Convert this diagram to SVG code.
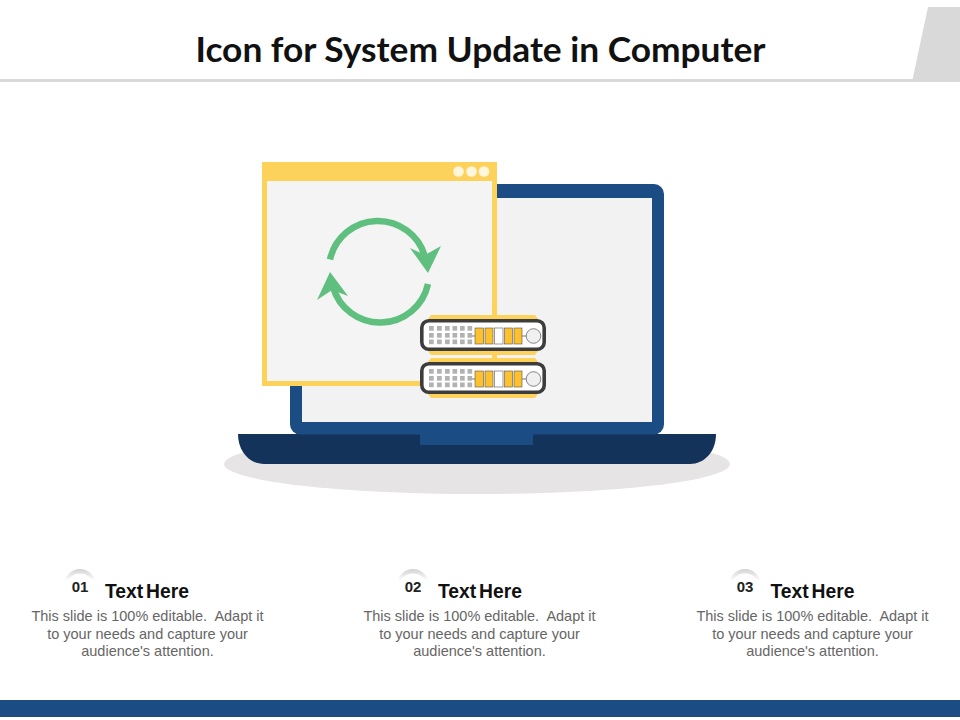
<svg xmlns="http://www.w3.org/2000/svg" width="960" height="720" viewBox="0 0 960 720">
<style>
.title{font:700 35px "Lato",sans-serif;fill:#111}
.num{font:bold 15px "Liberation Sans",Arial,sans-serif;fill:#222;text-anchor:middle}
.head{font:bold 19.300px "Liberation Sans",Arial,sans-serif;fill:#111;word-spacing:-2.500px}
.body{font:14.500px "Liberation Sans",Arial,sans-serif;fill:#666;text-anchor:middle;white-space:pre}
.arc{fill:none;stroke:#5fbf7f;stroke-width:6.500}
.g{fill:#b2b2b2}.y{fill:#fdc02f;stroke:#555;stroke-width:.6}.w{fill:#fff;stroke:#555;stroke-width:.6}
</style>
<defs>
<linearGradient id="halo" x1="0" y1="0" x2="0" y2="1"><stop offset="0" stop-color="#d2d2d2"/><stop offset=".7" stop-color="#fff"/></linearGradient>
<g id="row">
<path d="M428 319 L431 315 H535 L538 319 V351 L535 355 H431 L428 351Z" fill="#fdd25b"/>
<rect x="421.800" y="320.800" width="122.400" height="28.400" rx="7" fill="#fff" stroke="#3d3d3d" stroke-width="3.600"/>
<path d="M472 336H475M522 336H526" stroke="#555" stroke-width=".8"/>
<g class="g">
<rect x="429" y="326" width="4.700" height="4.700"/><rect x="437" y="326" width="4.700" height="4.700"/><rect x="445" y="326" width="4.700" height="4.700"/><rect x="452.500" y="326" width="4.700" height="4.700"/><rect x="460" y="326" width="4.700" height="4.700"/><rect x="467.500" y="326" width="4.700" height="4.700"/>
<rect x="429" y="333" width="4.700" height="4.700"/><rect x="437" y="333" width="4.700" height="4.700"/><rect x="445" y="333" width="4.700" height="4.700"/><rect x="452.500" y="333" width="4.700" height="4.700"/><rect x="460" y="333" width="4.700" height="4.700"/><rect x="467.500" y="333" width="4.700" height="4.700"/>
<rect x="429" y="339.500" width="4.700" height="4.700"/><rect x="437" y="339.500" width="4.700" height="4.700"/><rect x="445" y="339.500" width="4.700" height="4.700"/><rect x="452.500" y="339.500" width="4.700" height="4.700"/><rect x="460" y="339.500" width="4.700" height="4.700"/><rect x="467.500" y="339.500" width="4.700" height="4.700"/>
</g>
<rect class="y" x="475" y="328" width="8.500" height="16"/><rect class="y" x="485" y="328" width="8" height="16"/><rect class="w" x="494.500" y="328" width="8.500" height="16"/><rect class="y" x="504.500" y="328" width="8" height="16"/><rect class="y" x="514" y="328" width="8" height="16"/>
<circle cx="533.500" cy="336" r="7.300" fill="#f0f0f0" stroke="#777" stroke-width=".9"/>
</g>
</defs>
<rect width="960" height="720" fill="#fff"/>
<g id="header">
<rect x="0" y="79" width="920" height="3" fill="#d9d9d9"/>
<path d="M928 7H960V82H912Z" fill="#d9d9d9"/>
<text class="title" x="480.500" y="62" text-anchor="middle" textLength="570" lengthAdjust="spacingAndGlyphs">Icon for System Update in Computer</text>
</g>
<g id="laptop">
<ellipse cx="477" cy="464" rx="253" ry="30" fill="#e6e4e4"/>
<path d="M238 434H716C716 452 704 464 690 464H264C250 464 238 452 238 434Z" fill="#14335b"/>
<rect x="290" y="184" width="374" height="250.500" rx="10" fill="#1c4c84"/>
<rect x="420" y="434" width="113" height="11" fill="#1c4c84"/>
<rect x="302" y="198" width="350" height="224" fill="#f2f2f2"/>
</g>
<g id="window">
<rect x="262" y="162" width="235" height="224" fill="#fdd25b"/>
<rect x="267" y="181" width="225" height="200" fill="#f4f4f4"/>
<circle cx="458.500" cy="171.500" r="5.300" fill="#fff6dc"/><circle cx="471.500" cy="171.500" r="5.300" fill="#fff6dc"/><circle cx="484" cy="171.500" r="5.300" fill="#fff6dc"/>
</g>
<g id="refresh-icon">
<path class="arc" d="M330 259.500A49 49 0 0 1 425 256.500"/>
<path d="M428 273L410 248L425 255L441 246Z" fill="#5fbf7f"/>
<path class="arc" d="M428 284A49 49 0 0 1 333 287"/>
<path d="M330 272L348 296L332 290L317 300Z" fill="#5fbf7f"/>
</g>
<g id="server">
<use href="#row"/>
<use href="#row" y="43"/>
</g>
<g id="item-1">
<path d="M64 586a16 17 0 0 1 32 0Z" fill="url(#halo)"/><circle cx="80" cy="588" r="14.500" fill="#fff"/>
<text class="num" x="80" y="592">01</text>
<text class="head" x="105" y="597.500">Text Here</text>
<text class="body" x="147.500" y="621">This slide is 100% editable.  Adapt it</text>
<text class="body" x="147.500" y="639">to your needs and capture your</text>
<text class="body" x="147.500" y="656">audience's attention.</text>
</g>
<g id="item-2">
<path d="M397 586a16 17 0 0 1 32 0Z" fill="url(#halo)"/><circle cx="413" cy="588" r="14.500" fill="#fff"/>
<text class="num" x="413" y="592">02</text>
<text class="head" x="438" y="597.500">Text Here</text>
<text class="body" x="479.500" y="621">This slide is 100% editable.  Adapt it</text>
<text class="body" x="479.500" y="639">to your needs and capture your</text>
<text class="body" x="479.500" y="656">audience's attention.</text>
</g>
<g id="item-3">
<path d="M729 586a16 17 0 0 1 32 0Z" fill="url(#halo)"/><circle cx="745" cy="588" r="14.500" fill="#fff"/>
<text class="num" x="745" y="592">03</text>
<text class="head" x="770.500" y="597.500">Text Here</text>
<text class="body" x="812.500" y="621">This slide is 100% editable.  Adapt it</text>
<text class="body" x="812.500" y="639">to your needs and capture your</text>
<text class="body" x="812.500" y="656">audience's attention.</text>
</g>
<rect id="footer" x="0" y="700" width="960" height="17" fill="#1c4c84"/>
</svg>
